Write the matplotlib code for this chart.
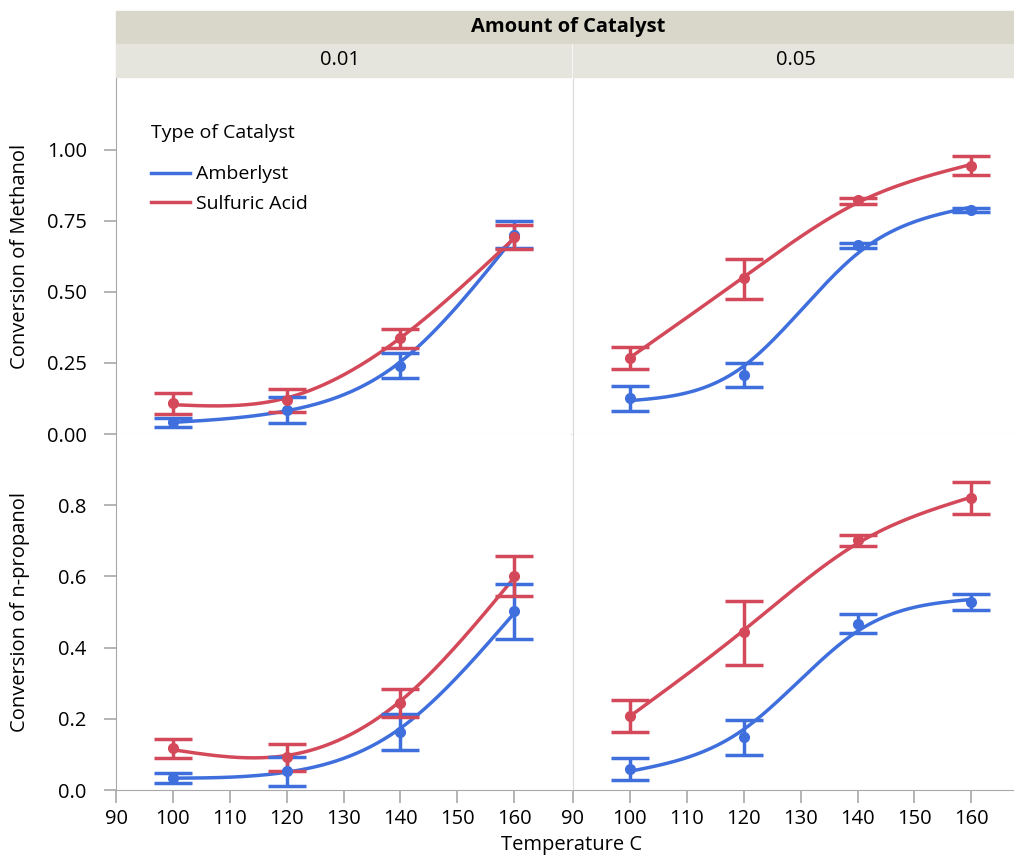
import matplotlib

matplotlib.use("Agg")
from matplotlib import pyplot as plt
from matplotlib.lines import Line2D
from matplotlib.patches import Rectangle
import numpy as np

plt.rcParams['font.family'] = ['Open Sans', 'DejaVu Sans']

# --- data --------------------------------------------------------------
temps = [100, 120, 140, 160]
catalyst_types = ['Amberlyst', 'Sulfuric Acid']
amounts = ['0.01', '0.05']
responses = ['Conversion of Methanol', 'Conversion of n-propanol']

# methanol, 0.01
meth_amb_01 = [0.043, 0.085, 0.241, 0.700]
meth_amb_01_lo = [0.026, 0.038, 0.196, 0.654]
meth_amb_01_hi = [0.057, 0.131, 0.284, 0.751]
meth_sul_01 = [0.108, 0.120, 0.337, 0.692]
meth_sul_01_lo = [0.069, 0.079, 0.302, 0.651]
meth_sul_01_hi = [0.146, 0.160, 0.370, 0.734]

# methanol, 0.05
meth_amb_05 = [0.128, 0.208, 0.665, 0.789]
meth_amb_05_lo = [0.082, 0.167, 0.656, 0.782]
meth_amb_05_hi = [0.170, 0.249, 0.671, 0.795]
meth_sul_05 = [0.269, 0.548, 0.822, 0.945]
meth_sul_05_lo = [0.229, 0.475, 0.809, 0.912]
meth_sul_05_hi = [0.305, 0.616, 0.830, 0.977]

# n-propanol, 0.01
prop_amb_01 = [0.035, 0.052, 0.164, 0.502]
prop_amb_01_lo = [0.019, 0.012, 0.111, 0.423]
prop_amb_01_hi = [0.049, 0.094, 0.214, 0.580]
prop_sul_01 = [0.117, 0.094, 0.244, 0.601]
prop_sul_01_lo = [0.089, 0.054, 0.205, 0.546]
prop_sul_01_hi = [0.144, 0.130, 0.285, 0.657]

# n-propanol, 0.05
prop_amb_05 = [0.059, 0.150, 0.467, 0.528]
prop_amb_05_lo = [0.028, 0.099, 0.440, 0.505]
prop_amb_05_hi = [0.091, 0.197, 0.495, 0.550]
prop_sul_05 = [0.208, 0.443, 0.701, 0.819]
prop_sul_05_lo = [0.163, 0.352, 0.685, 0.774]
prop_sul_05_hi = [0.253, 0.532, 0.716, 0.865]

meth_ticks = [0.00, 0.25, 0.50, 0.75, 1.00]
prop_ticks = [0.0, 0.2, 0.4, 0.6, 0.8]
x_ticks = [90, 100, 110, 120, 130, 140, 150, 160]

BLUE = '#3F6FDD'
RED = '#D4495A'
FS = 14.5


def smoothing_spline(x, y, lam, n_out=200):
    """Natural cubic smoothing spline (Reinsch form), like JMP's smoother."""
    x = np.asarray(x, float)
    y = np.asarray(y, float)
    t = (x - x[0]) / (x[1] - x[0])
    n = len(t)
    h = np.diff(t)
    Q = np.zeros((n, n - 2))
    R = np.zeros((n - 2, n - 2))
    for j in range(1, n - 1):
        Q[j - 1, j - 1] = 1 / h[j - 1]
        Q[j, j - 1] = -1 / h[j - 1] - 1 / h[j]
        Q[j + 1, j - 1] = 1 / h[j]
        R[j - 1, j - 1] = (h[j - 1] + h[j]) / 3
        if j < n - 2:
            R[j - 1, j] = R[j, j - 1] = h[j] / 6
    K = Q @ np.linalg.solve(R, Q.T)
    g = np.linalg.solve(np.eye(n) + lam * K, y)
    gam = np.concatenate([[0.0], np.linalg.solve(R, Q.T @ g), [0.0]])
    ts = np.linspace(t[0], t[-1], n_out)
    out = np.empty_like(ts)
    for k, tt in enumerate(ts):
        i = min(np.searchsorted(t, tt, side='right') - 1, n - 2)
        a, b = tt - t[i], t[i + 1] - tt
        out[k] = (a * g[i + 1] + b * g[i]) / h[i] - a * b / 6 * (
            (1 + a / h[i]) * gam[i + 1] + (1 + b / h[i]) * gam[i])
    xs = x[0] + ts * (x[1] - x[0])
    return xs, out


def draw_series(ax, mean, lo, hi, color):
    xs, ys = smoothing_spline(temps, mean, 0.02)
    ax.plot(xs, ys, color=color, lw=2.5, solid_capstyle='butt', zorder=3)
    mean = np.array(mean)
    yerr = [mean - np.array(lo), np.array(hi) - mean]
    ax.errorbar(temps, mean, yerr=yerr, fmt='o', color=color, ms=7,
                elinewidth=2.5, capsize=14, capthick=2.5, zorder=4)


fig = plt.figure(figsize=(10.14, 8.56), dpi=100)
W, H = 1014.0, 856.0


def px_axes(x0, y0, x1, y1):
    return fig.add_axes([x0 / W, 1 - y1 / H, (x1 - x0) / W, (y1 - y0) / H])


# panel boxes in pixels: left, top, right, bottom
ax_tl = px_axes(116, 78, 571, 434)
ax_tr = px_axes(573, 78, 1014, 434)
ax_bl = px_axes(116, 434, 571, 790)
ax_br = px_axes(573, 434, 1014, 790)

panels = [
    (ax_tl, meth_amb_01, meth_amb_01_lo, meth_amb_01_hi,
     meth_sul_01, meth_sul_01_lo, meth_sul_01_hi),
    (ax_tr, meth_amb_05, meth_amb_05_lo, meth_amb_05_hi,
     meth_sul_05, meth_sul_05_lo, meth_sul_05_hi),
    (ax_bl, prop_amb_01, prop_amb_01_lo, prop_amb_01_hi,
     prop_sul_01, prop_sul_01_lo, prop_sul_01_hi),
    (ax_br, prop_amb_05, prop_amb_05_lo, prop_amb_05_hi,
     prop_sul_05, prop_sul_05_lo, prop_sul_05_hi),
]

for ax, am, alo, ahi, sm, slo, shi in panels:
    draw_series(ax, am, alo, ahi, BLUE)
    draw_series(ax, sm, slo, shi, RED)
    for s in ['top', 'right']:
        ax.spines[s].set_visible(False)
    ax.spines['left'].set_color('#A8A8A8')
    ax.spines['bottom'].set_color('#A8A8A8')
    ax.tick_params(colors='#A8A8A8', labelcolor='black', labelsize=FS,
                   length=9, width=1.2)
    ax.tick_params(axis='y', pad=12)

# y ranges
for ax in (ax_tl, ax_tr):
    ax.set_ylim(0, 1.253)
    ax.set_yticks(meth_ticks)
    ax.set_yticklabels(['%.2f' % v for v in meth_ticks])
    ax.set_xticks([])
    ax.spines['bottom'].set_color('#D6D6D6')
for ax in (ax_bl, ax_br):
    ax.set_ylim(0, 1.0)
    ax.set_yticks(prop_ticks)
    ax.set_yticklabels(['%.1f' % v for v in prop_ticks])
    ax.set_xticks(x_ticks)
    ax.set_xticklabels([str(v) for v in x_ticks])
    ax.tick_params(axis='x', pad=5)

ax_tl.set_xlim(90, 170)
ax_bl.set_xlim(90, 170)
ax_tr.set_xlim(90, 167.5)
ax_br.set_xlim(90, 167.5)

for ax in (ax_tr, ax_br):
    ax.set_yticks([])
    ax.spines['left'].set_color('#DADADA')

ax_tl.set_ylabel(responses[0], fontsize=FS)
ax_bl.set_ylabel(responses[1], fontsize=FS)
ax_tl.yaxis.set_label_coords(-0.19, 0.5)
ax_bl.yaxis.set_label_coords(-0.19, 0.5)
fig.text(572 / W, 1 - 845 / H, 'Temperature C', ha='center', va='center',
         fontsize=FS)

# legend
handles = [Line2D([], [], color=BLUE, lw=2.5),
           Line2D([], [], color=RED, lw=2.5)]
leg = ax_tl.legend(handles, catalyst_types, title='Type of Catalyst',
                   loc='upper left', bbox_to_anchor=(0.06, 0.893),
                   frameon=False, fontsize=FS - 0.5, title_fontsize=FS - 0.5,
                   handlelength=2.0, handletextpad=0.3, labelspacing=0.6,
                   borderaxespad=0)
leg._legend_box.align = 'left'
leg._legend_box.sep = 17

# header bands
fig.patches.append(Rectangle((116 / W, 1 - 43 / H), (W - 116) / W, 32 / H,
                             transform=fig.transFigure, color='#D9D7C9',
                             zorder=0))
fig.patches.append(Rectangle((116 / W, 1 - 77 / H), (571 - 116) / W, 33 / H,
                             transform=fig.transFigure, color='#E6E5DD',
                             zorder=0))
fig.patches.append(Rectangle((573 / W, 1 - 77 / H), (W - 573) / W, 33 / H,
                             transform=fig.transFigure, color='#E6E5DD',
                             zorder=0))
fig.text(568 / W, 1 - 27 / H, 'Amount of Catalyst', ha='center',
         va='center', fontsize=FS, fontweight='bold')
fig.text(340 / W, 1 - 60 / H, amounts[0], ha='center', va='center',
         fontsize=FS)
fig.text(796 / W, 1 - 60 / H, amounts[1], ha='center', va='center',
         fontsize=FS)

fig.savefig('out.png', dpi=100)
